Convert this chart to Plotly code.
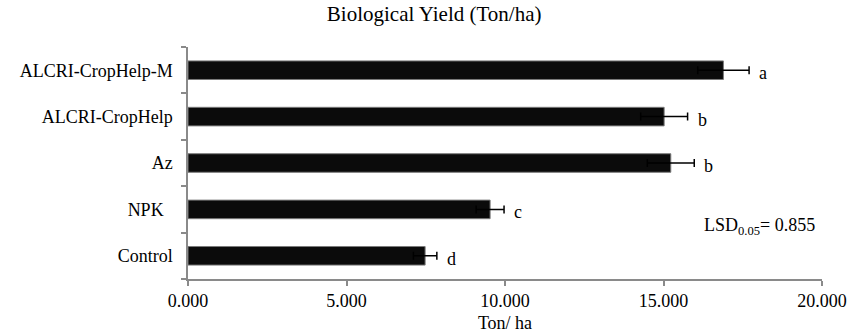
import plotly.graph_objects as go

categories = ["Control", "NPK\u00a0\u00a0", "Az", "ALCRI-CropHelp", "ALCRI-CropHelp-M"]
yield_values = [7.48, 9.53, 15.23, 15.02, 16.89]
error_values = [0.37, 0.44, 0.74, 0.74, 0.81]
group_letters = ["d", "c", "b", "b", "a"]
x_tick_values = [0, 5, 10, 15, 20]

FONT = "Liberation Serif, Times New Roman, serif"
AXIS_GREY = "#8a8a8a"

fig = go.Figure()
fig.add_trace(go.Bar(
    x=yield_values,
    y=categories,
    orientation="h",
    width=0.4,
    marker=dict(color="#0b0b0b", line=dict(color="#7a7a7a", width=1)),
    error_x=dict(type="data", array=error_values, visible=True,
                 color="black", thickness=1.5, width=4),
    hoverinfo="skip",
))

for cat, v, e, letter in zip(categories, yield_values, error_values, group_letters):
    fig.add_annotation(x=v + e, y=cat, text=letter, showarrow=False,
                       xanchor="left", xshift=8, yshift=-3,
                       font=dict(family=FONT, size=18, color="black"))

fig.add_annotation(xref="paper", yref="paper", x=0.992, y=0.225,
                   text="LSD<sub>0.05</sub>= 0.855", showarrow=False,
                   xanchor="right", yanchor="middle",
                   font=dict(family=FONT, size=18, color="black"))

fig.update_layout(
    width=848, height=334,
    margin=dict(l=188, r=26, t=47, b=55),
    paper_bgcolor="white", plot_bgcolor="white",
    showlegend=False,
    font=dict(family=FONT, size=18, color="black"),
    title=dict(text="Biological Yield (Ton/ha)", xref="container", x=0.512,
               xanchor="center", yref="container", y=0.958, yanchor="middle",
               font=dict(family=FONT, size=21, color="black")),
    xaxis=dict(range=[0, 20], tickvals=x_tick_values, tickformat=".3f",
               automargin=False,
               showgrid=False, zeroline=False, showline=True,
               linecolor=AXIS_GREY, linewidth=1.5,
               ticks="outside", tickcolor=AXIS_GREY, ticklen=5, tickwidth=1.5,
               title=dict(text="Ton/ ha", standoff=6,
                          font=dict(family=FONT, size=18, color="black")),
               tickfont=dict(family=FONT, size=18, color="black")),
    yaxis=dict(type="category", categoryorder="array", categoryarray=categories,
               automargin=False,
               tickson="boundaries", showgrid=False, zeroline=False,
               showline=True, linecolor=AXIS_GREY, linewidth=1.5,
               ticks="outside", tickcolor=AXIS_GREY, ticklen=5, tickwidth=1.5,
               ticklabelstandoff=10,
               tickfont=dict(family=FONT, size=18, color="black")),
)

fig.write_html("out.html",
               config={"displayModeBar": False},
               post_script="document.body.style.margin='0';document.body.style.overflow='hidden';")
